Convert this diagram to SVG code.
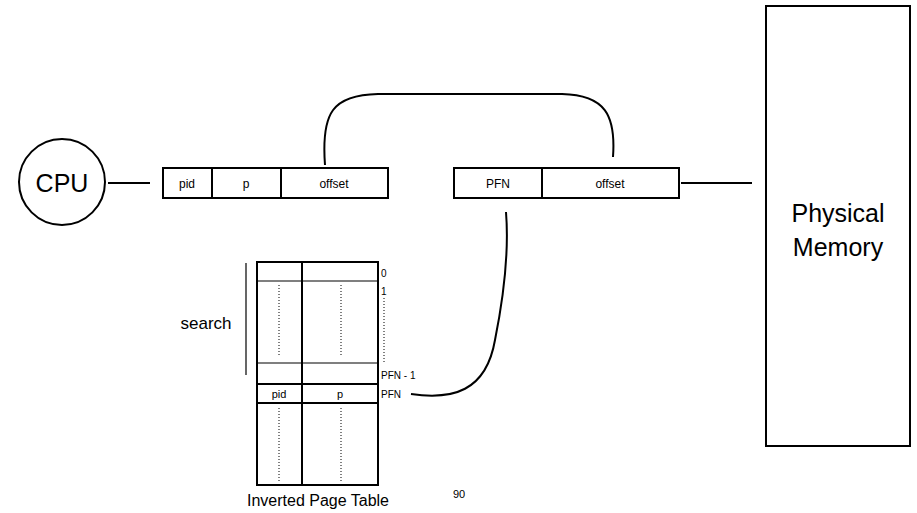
<svg xmlns="http://www.w3.org/2000/svg" width="917" height="513" viewBox="0 0 917 513">
<style>
.s{fill:none;stroke:#000;stroke-width:2}
.t{stroke:#000;stroke-width:1.2;fill:none}
.d{stroke:#000;stroke-width:1;stroke-dasharray:1 2;fill:none}
text{font-family:"Liberation Sans",Arial,sans-serif;fill:#000}
</style>
<rect width="917" height="513" fill="#fff"/>
<g id="connectors" class="s">
<line x1="108" y1="183" x2="150" y2="183"/>
<line x1="681" y1="183" x2="752" y2="183"/>
<path d="M325,165 C321,112 333,95 378,94 L562,94 C605,95 616,115 613,157"/>
<path d="M411,394 C452,400 486,392 495,340 C503,300 509,250 506,212"/>
</g>
<g id="cpu">
<circle cx="62" cy="182" r="43" class="s"/>
<text x="62" y="192" font-size="25" text-anchor="middle">CPU</text>
</g>
<g id="vaddr">
<rect x="163" y="168" width="225" height="30" class="s"/>
<line x1="212" y1="168" x2="212" y2="198" class="s"/>
<line x1="281" y1="168" x2="281" y2="198" class="s"/>
<text x="187" y="188" font-size="12" text-anchor="middle">pid</text>
<text x="246" y="188" font-size="12" text-anchor="middle">p</text>
<text x="334" y="188" font-size="12" text-anchor="middle">offset</text>
</g>
<g id="paddr">
<rect x="454" y="168" width="225" height="30" class="s"/>
<line x1="542" y1="168" x2="542" y2="198" class="s"/>
<text x="498" y="188" font-size="12" text-anchor="middle">PFN</text>
<text x="610" y="188" font-size="12" text-anchor="middle">offset</text>
</g>
<g id="memory">
<rect x="766" y="6" width="144" height="440" class="s"/>
<text x="838" y="222" font-size="25" text-anchor="middle">Physical</text>
<text x="838" y="256" font-size="25" text-anchor="middle">Memory</text>
</g>
<g id="table">
<rect x="257" y="262" width="121" height="223" class="s"/>
<line x1="302" y1="262" x2="302" y2="485" class="s"/>
<line x1="257" y1="281" x2="378" y2="281" class="t"/>
<line x1="257" y1="363" x2="378" y2="363" class="t"/>
<line x1="257" y1="384" x2="378" y2="384" class="s"/>
<line x1="257" y1="403" x2="378" y2="403" class="s"/>
<line x1="279" y1="285" x2="279" y2="357" class="d"/>
<line x1="341" y1="285" x2="341" y2="357" class="d"/>
<line x1="279" y1="408" x2="279" y2="481" class="d"/>
<line x1="341" y1="408" x2="341" y2="481" class="d"/>
<line x1="384" y1="298" x2="384" y2="362" class="d"/>
<text x="279" y="398" font-size="11" text-anchor="middle">pid</text>
<text x="340" y="398" font-size="11" text-anchor="middle">p</text>
<text x="381" y="277" font-size="10">0</text>
<text x="381" y="295" font-size="10">1</text>
<text x="381" y="379" font-size="10">PFN - 1</text>
<text x="381" y="398" font-size="10">PFN</text>
<text x="318" y="506" font-size="16" text-anchor="middle">Inverted Page Table</text>
</g>
<g id="search">
<line x1="246" y1="263" x2="246" y2="375" class="t"/>
<text x="206" y="329" font-size="17" text-anchor="middle">search</text>
</g>
<text x="459" y="498" font-size="11" text-anchor="middle">90</text>
</svg>
